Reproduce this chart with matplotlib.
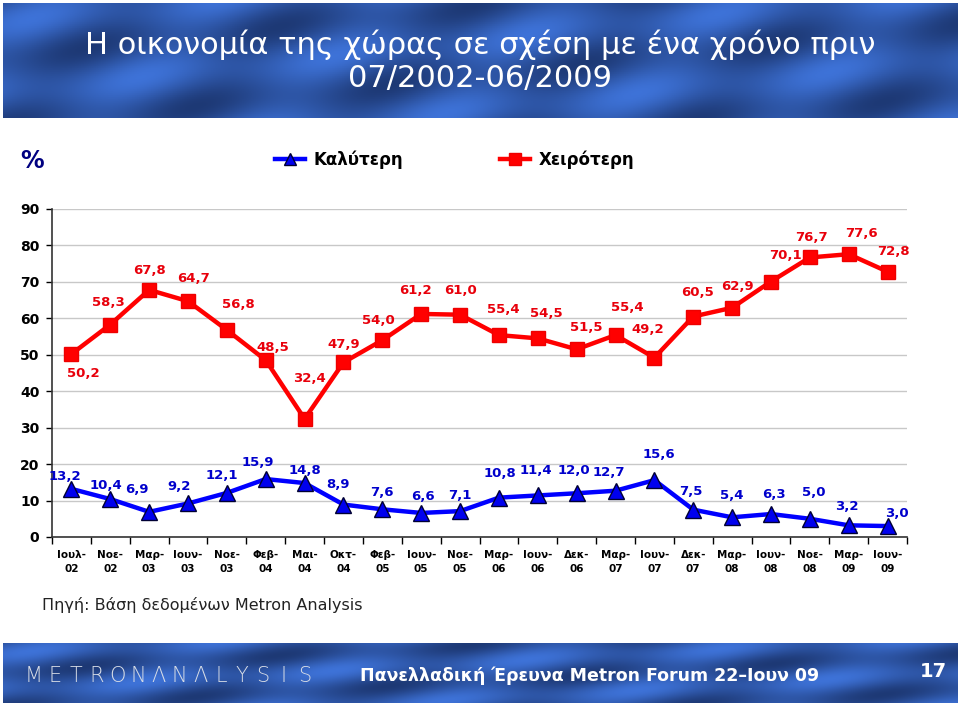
import numpy as np
import matplotlib
matplotlib.use("Agg")
import matplotlib.pyplot as plt

# chart data
months = ["Ιουλ-02", "Νοε-02", "Μαρ-03", "Ιουν-03", "Νοε-03", "Φεβ-04", "Μαι-04",
          "Οκτ-04", "Φεβ-05", "Ιουν-05", "Νοε-05", "Μαρ-06", "Ιουν-06", "Δεκ-06",
          "Μαρ-07", "Ιουν-07", "Δεκ-07", "Μαρ-08", "Ιουν-08", "Νοε-08", "Μαρ-09", "Ιουν-09"]
better = [13.2, 10.4, 6.9, 9.2, 12.1, 15.9, 14.8, 8.9, 7.6, 6.6, 7.1,
          10.8, 11.4, 12.0, 12.7, 15.6, 7.5, 5.4, 6.3, 5.0, 3.2, 3.0]
worse = [50.2, 58.3, 67.8, 64.7, 56.8, 48.5, 32.4, 47.9, 54.0, 61.2, 61.0,
         55.4, 54.5, 51.5, 55.4, 49.2, 60.5, 62.9, 70.1, 76.7, 77.6, 72.8]
yticks = [0, 10, 20, 30, 40, 50, 60, 70, 80, 90]

# label offsets in pixels, (right, down) - layout only
worse_off = [(12, 19), (-2, -22), (0, -19), (5, -23), (11, -25), (7, -13), (5, -40),
             (0, -18), (-4, -20), (-6, -23), (0, -24), (4, -26), (9, -25), (10, -22),
             (12, -28), (-7, -28), (4, -24), (5, -21), (14, -26), (2, -20), (13, -21), (6, -20)]
better_off = [(-7, -12), (-4, -14), (-12, -22), (-9, -17), (-5, -17), (-8, -17), (0, -13),
              (-5, -20), (0, -17), (2, -16), (0, -16), (1, -24), (-2, -25), (-3, -23),
              (-7, -18), (4, -26), (-2, -18), (0, -22), (3, -20), (4, -26), (-2, -19), (9, -13)]

W, H = 960, 706

fig = plt.figure(figsize=(9.6, 7.06), dpi=100)


def fbox(x0, y0, x1, y1):
    # pixel box (top-left origin) -> figure fraction rect
    return [x0 / W, 1 - y1 / H, (x1 - x0) / W, (y1 - y0) / H]


def banner(rect):
    b = fig.add_axes(rect)
    yy, xx = np.mgrid[0:60, 0:400]
    diag = np.sin((xx + yy * 2.2) / 18.0) * np.cos((xx - yy * 1.5) / 31.0)
    v = 0.55 + 0.35 * diag
    img = np.clip(np.dstack([0.08 + 0.18 * v, 0.16 + 0.32 * v, 0.35 + 0.55 * v]), 0, 1)
    b.imshow(img, aspect="auto", extent=(0, 1, 0, 1))
    b.set_xlim(0, 1)
    b.set_ylim(0, 1)
    b.axis("off")
    return b


# header
hdr = banner(fbox(3, 3, 957, 118))
hdr.text(0.5, 0.64, "Η οικονομία της χώρας σε σχέση με ένα χρόνο πριν", color="white",
         ha="center", va="center", fontsize=22)
hdr.text(0.5, 0.34, "07/2002-06/2009", color="white", ha="center", va="center", fontsize=22)

# footer
ftr = banner(fbox(3, 643, 957, 703))
for k, ch in enumerate("METRONΛNΛLYSIS"):
    ftr.text((31 + k * 20.8) / 954, 0.45, ch, color="#d8dde6", ha="center", va="center",
             fontsize=15, fontweight="light")
ftr.text(0.615, 0.45, "Πανελλαδική Έρευνα Metron Forum 22–Ιουν 09", color="white",
         ha="center", va="center", fontsize=12.5, fontweight="bold")
ftr.text(0.975, 0.52, "17", color="white", ha="center", va="center",
         fontsize=14, fontweight="bold")

# main chart
ax = fig.add_axes(fbox(52, 209, 907, 537))
x = np.arange(len(months))

l_better, = ax.plot(x, better, color="#0000ff", lw=3.2, marker="^", markersize=11,
                    markerfacecolor="#0000ee", markeredgecolor="#000033", markeredgewidth=1,
                    label="Καλύτερη", zorder=3)
l_worse, = ax.plot(x, worse, color="#ff0000", lw=3.2, marker="s", markersize=10,
                   markerfacecolor="#ff0000", markeredgecolor="#ee0000",
                   label="Χειρότερη", zorder=3)

for i, v in enumerate(worse):
    dx, dy = worse_off[i]
    ax.annotate(f"{v:.1f}".replace(".", ","), (x[i], v), xytext=(dx, -dy),
                textcoords="offset pixels", ha="center", va="center", color="#e8000b",
                fontsize=9.5, fontweight="bold")
for i, v in enumerate(better):
    dx, dy = better_off[i]
    ax.annotate(f"{v:.1f}".replace(".", ","), (x[i], v), xytext=(dx, -dy),
                textcoords="offset pixels", ha="center", va="center", color="#0000cc",
                fontsize=9.5, fontweight="bold")

ax.set_xlim(-0.5, len(months) - 0.5)
ax.set_ylim(0, 90)
ax.set_yticks(yticks)
ax.set_yticklabels([str(t) for t in yticks], fontsize=10, fontweight="bold")
ax.yaxis.grid(True, color="#c8c8c8", lw=1)
ax.set_axisbelow(True)

ax.set_xticks(x)
ax.set_xticklabels([m.replace("-", "-\n") for m in months], fontsize=7.5,
                   fontweight="bold", linespacing=1.6)
ax.set_xticks(np.arange(-0.5, len(months)), minor=True)
ax.tick_params(axis="x", which="major", length=0, pad=9)
ax.tick_params(axis="x", which="minor", length=5, width=1, direction="out")
ax.tick_params(axis="y", length=4, width=1, direction="out", pad=5)

for s in ["top", "right"]:
    ax.spines[s].set_visible(False)
for s in ["left", "bottom"]:
    ax.spines[s].set_color("#333333")
    ax.spines[s].set_linewidth(1.2)

# legend row
fig.text(20 / W, 1 - 161 / H, "%", color="#000080", fontsize=17, fontweight="bold",
         ha="left", va="center")
for handle, x0 in [(l_better, 275), (l_worse, 500)]:
    fig.legend(handles=[handle], loc="center left", bbox_to_anchor=(x0 / W, 1 - 160 / H),
               frameon=False, borderpad=0, borderaxespad=0, handlelength=1.8,
               handletextpad=0.5, prop={"weight": "bold", "size": 12}, markerscale=0.85)

fig.text(42 / W, 1 - 605 / H, "Πηγή: Βάση δεδομένων Metron Analysis", fontsize=11.5,
         color="#222222", ha="left", va="center")

fig.savefig("out.png", dpi=100)
